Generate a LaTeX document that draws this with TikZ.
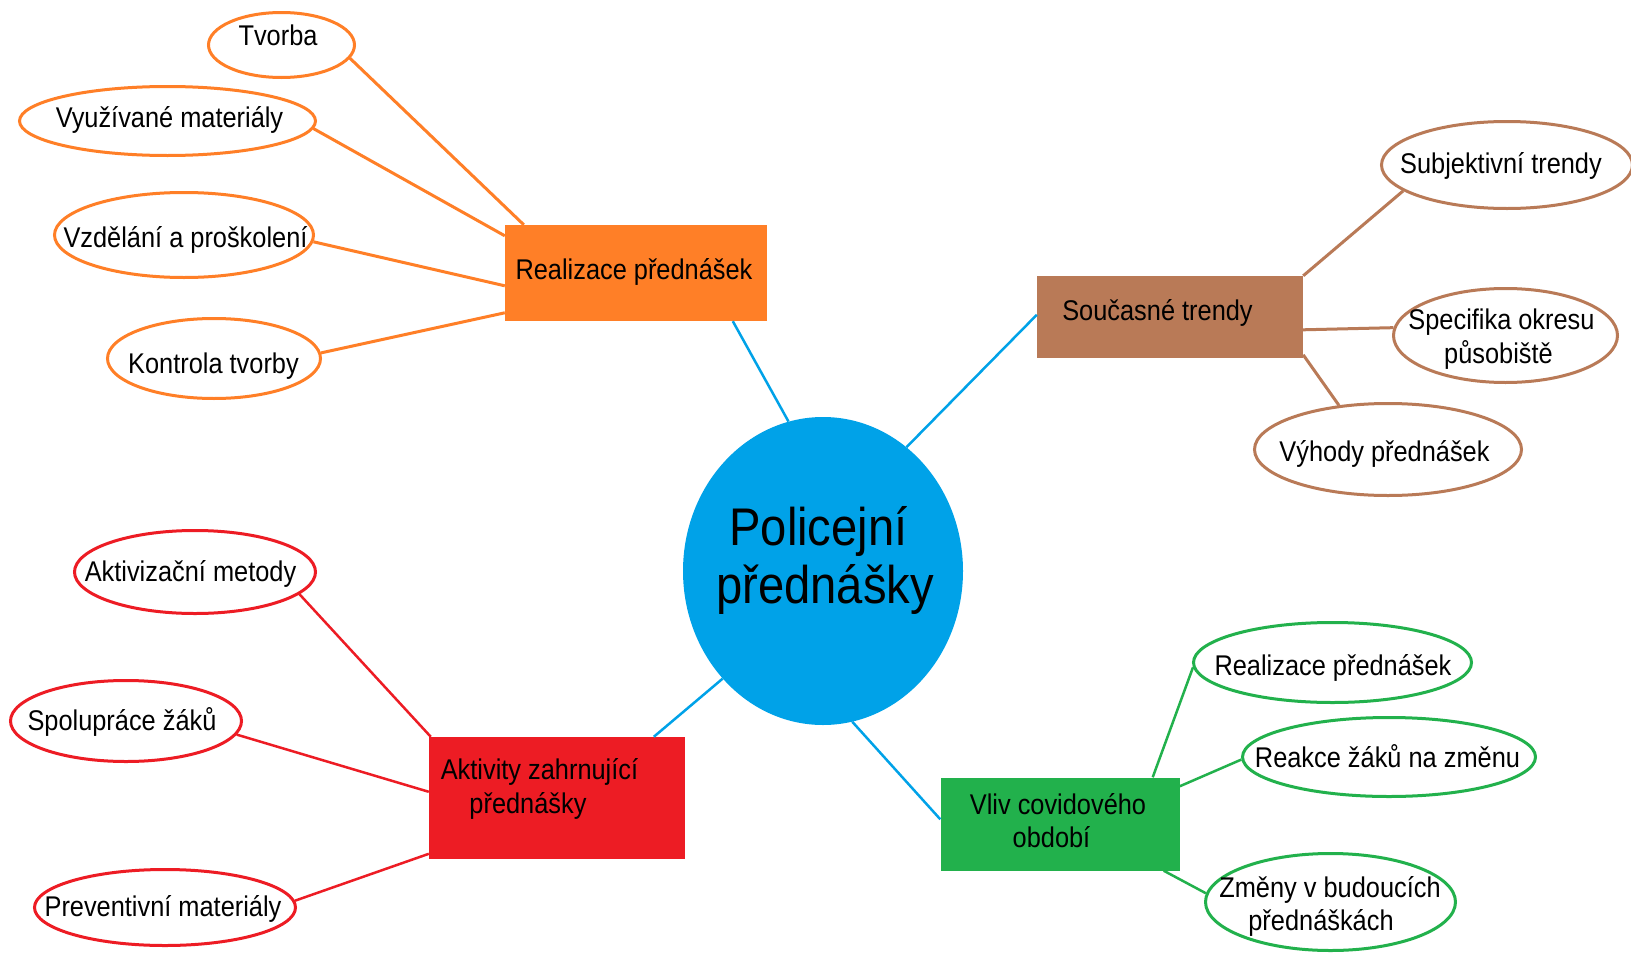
\documentclass[tikz,border=0pt]{standalone}
\usepackage{fontspec}
\setmainfont[FakeStretch=0.89]{Liberation Sans}
\usetikzlibrary{shapes.geometric,calc}
\definecolor{corange}{HTML}{FF7F27}
\definecolor{cbrown}{HTML}{B97A57}
\definecolor{cred}{HTML}{ED1C24}
\definecolor{cgreen}{HTML}{22B14C}
\definecolor{cblue}{HTML}{00A2E8}
\begin{document}
\begin{tikzpicture}[x=1pt,y=-1pt,
  txt/.style={font=\fontsize{28.5}{33.5}\selectfont, inner sep=0pt, anchor=base},
  bigtxt/.style={font=\fontsize{53}{58.3}\selectfont, inner sep=0pt, anchor=base},
  leaf/.style={ellipse, draw, fill=white, line width=3pt, inner sep=0pt},
  box/.style={rectangle, inner sep=0pt},
  hub/.style={ellipse, fill=cblue, inner sep=0pt},
  blueline/.style={cblue, line width=2.5pt},
  oline/.style={corange, line width=3pt},
  bline/.style={cbrown, line width=3pt},
  rline/.style={cred, line width=2.5pt},
  gline/.style={cgreen, line width=2.5pt}]
\useasboundingbox (0,0) rectangle (1631,953);
\fill[white] (0,0) rectangle (1631,953);

% hub
\node[hub, minimum width=280pt, minimum height=308pt] (hub) at (823,571) {};
\node[bigtxt] (hubtext) at (825,603.3) {\begin{tabular}[b]{@{}c@{}}\hspace*{-13pt}Policejní\\přednášky\end{tabular}};

% category boxes
\node[box, fill=corange, minimum width=262pt, minimum height=96pt] (real) at (636,273) {};
\node[txt] (realtext) at (634,279) {Realizace přednášek};
\node[box, fill=cbrown, minimum width=266pt, minimum height=82pt] (curr) at (1170,317) {};
\node[txt] (currtext) at (1157.5,320.5) {Současné trendy};
\node[box, fill=cred, minimum width=256pt, minimum height=122pt] (activ) at (557,798) {};
\node[txt] (activtext) at (539.5,813) {\begin{tabular}[b]{@{}c@{}}Aktivity zahrnující\\\hspace*{-23pt}přednášky\end{tabular}};
\node[box, fill=cgreen, minimum width=239pt, minimum height=93pt] (covid) at (1060,824) {};
\node[txt] (covidtext) at (1058,847.5) {\begin{tabular}[b]{@{}c@{}}Vliv covidového\\\hspace*{-13pt}období\end{tabular}};

% leaves: orange
\node[leaf, draw=corange, minimum width=146pt, minimum height=65pt] (tvorba) at (281.5,45) {};
\node[txt] (tvorbat) at (278,45) {Tvorba};
\node[leaf, draw=corange, minimum width=296pt, minimum height=69pt] (vyuz) at (167.5,121) {};
\node[txt] (vyuzt) at (169.5,127) {Využívané materiály};
\node[leaf, draw=corange, minimum width=259pt, minimum height=85pt] (vzdel) at (184,235) {};
\node[txt] (vzdelt) at (185.5,247) {Vzdělání a proškolení};
\node[leaf, draw=corange, minimum width=213pt, minimum height=80pt] (kontr) at (214,358.5) {};
\node[txt] (kontrt) at (213.5,373) {Kontrola tvorby};

% leaves: brown
\node[leaf, draw=cbrown, minimum width=251pt, minimum height=87pt] (subj) at (1507,165) {};
\node[txt] (subjt) at (1501,173) {Subjektivní trendy};
\node[leaf, draw=cbrown, minimum width=224pt, minimum height=94pt] (spec) at (1505.5,335.5) {};
\node[txt] (spect) at (1501.5,363) {\begin{tabular}[b]{@{}c@{}}Specifika okresu\\\hspace*{-6pt}působiště\end{tabular}};
\node[leaf, draw=cbrown, minimum width=267pt, minimum height=92pt] (vyh) at (1388,449.5) {};
\node[txt] (vyht) at (1384.5,461) {Výhody přednášek};

% leaves: red
\node[leaf, draw=cred, minimum width=241pt, minimum height=83pt] (aktiv) at (195,572) {};
\node[txt] (aktivt) at (190.5,581.5) {Aktivizační metody};
\node[leaf, draw=cred, minimum width=231pt, minimum height=81pt] (spol) at (126,721) {};
\node[txt] (spolt) at (122,730) {Spolupráce žáků};
\node[leaf, draw=cred, minimum width=261pt, minimum height=76pt] (prev) at (165,907.5) {};
\node[txt] (prevt) at (163,916) {Preventivní materiály};

% leaves: green
\node[leaf, draw=cgreen, minimum width=278pt, minimum height=80pt] (zrea) at (1332.5,662.5) {};
\node[txt] (zreat) at (1333,675.5) {Realizace přednášek};
\node[leaf, draw=cgreen, minimum width=293pt, minimum height=79pt] (reak) at (1389,757) {};
\node[txt] (reakt) at (1387.5,767.5) {Reakce žáků na změnu};
\node[leaf, draw=cgreen, minimum width=250pt, minimum height=97pt] (zmeny) at (1330.5,902) {};
\node[txt] (zmenyt) at (1330,930.5) {\begin{tabular}[b]{@{}c@{}}Změny v budoucích\\\hspace*{-18pt}přednáškách\end{tabular}};

% hub connectors
\draw[blueline] ($(real.south west)+(228,0)$) -- (hub.103);
\draw[blueline] ($(curr.north west)+(0,39)$) -- (hub.56);
\draw[blueline] ($(activ.north west)+(225,0)$) -- (hub.227);
\draw[blueline] ($(covid.north west)+(0,42)$) -- (hub.-79);

% orange connectors
\draw[oline] (tvorba.-11) -- ($(real.north west)+(19,0)$);
\draw[oline] (vyuz.-3) -- ($(real.north west)+(0,11)$);
\draw[oline] (vzdel.-3) -- ($(real.north west)+(0,61)$);
\draw[oline] (kontr.3) -- ($(real.north west)+(0,88)$);

% brown connectors
\draw[bline] (subj.194) -- (curr.north east);
\draw[bline] (spec.176) -- ($(curr.north east)+(0,54)$);
\draw[bline] (vyh.138) -- ($(curr.north east)+(0,79)$);

% red connectors
\draw[rline] (aktiv.-12) -- ($(activ.north west)+(2,0)$);
\draw[rline] (spol.-7) -- ($(activ.north west)+(0,55)$);
\draw[rline] (prev.3.5) -- ($(activ.north west)+(0,117)$);

% green connectors
\draw[gline] (zrea.182.5) -- ($(covid.north east)+(-27,0)$);
\draw[gline] (reak.181) -- ($(covid.north east)+(0,9)$);
\draw[gline] (zmeny.176) -- ($(covid.south east)+(-16,0)$);
\end{tikzpicture}
\end{document}
